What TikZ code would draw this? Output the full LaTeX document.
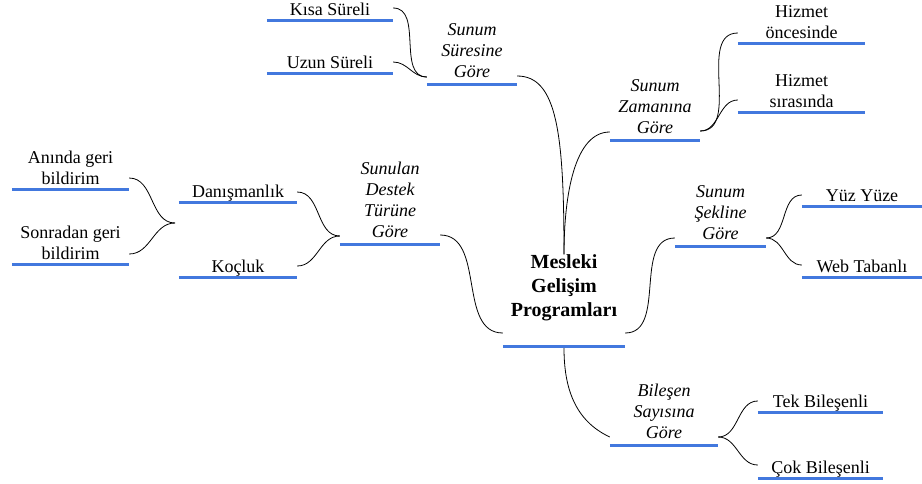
\documentclass[tikz,border=0pt]{standalone}
\usepackage{fontspec}
\setmainfont{Liberation Serif}
\definecolor{mavi}{RGB}{66,120,222}
\tikzset{ %dal stilleri
    yaprak/.style={inner xsep=0pt, inner ysep=4pt, anchor=south, align=center, font=\fontsize{18}{21}\selectfont},
    baslik/.style={inner xsep=0pt, inner ysep=6pt, anchor=south, align=center, font=\fontsize{18}{21}\selectfont\itshape},
    merkez/.style={inner sep=0pt, anchor=south, align=center, minimum width=122pt, font=\fontsize{20}{24}\selectfont\bfseries},
    cizgi/.style={draw=mavi, line width=3pt},
    bag/.style={draw=black, line width=0.8pt},
}

\begin{document}
\begin{tikzpicture}[x=1pt, y=-1pt]
			\useasboundingbox (0,0) rectangle (922,483);
			% merkez
			\node[merkez] (mesleki) at (564,321) {Mesleki\\Gelişim\\Programları};
			% sunum suresi
			\node[yaprak, minimum width=126pt, text depth=0pt] (kisa) at (330,20) {Kısa Süreli};
			\node[yaprak, minimum width=126pt, text depth=0pt] (uzun) at (330,73) {Uzun Süreli};
			\node[baslik, minimum width=90pt] (suresi) at (472,84) {Sunum\\Süresine\\Göre};
			% sunum zamani
			\node[baslik, minimum width=90pt] (zamani) at (655,140) {Sunum\\Zamanına\\Göre};
			\node[yaprak, minimum width=127pt] (oncesi) at (801.5,43) {Hizmet\\öncesinde};
			\node[yaprak, minimum width=127pt] (sirasi) at (801.5,112) {Hizmet\\sırasında};
			% sunum sekli
			\node[baslik, minimum width=91pt] (sekli) at (720.5,246) {Sunum\\Şekline\\Göre};
			\node[yaprak, minimum width=120pt, text depth=0pt] (yuz) at (862,206) {Yüz Yüze};
			\node[yaprak, minimum width=120pt, text depth=0pt] (web) at (862,277) {Web Tabanlı};
			% bilesen sayisi
			\node[baslik, minimum width=108pt] (bilesen) at (664,445) {Bileşen\\Sayısına\\Göre};
			\node[yaprak, minimum width=125pt, text depth=0pt] (tek) at (820.5,412) {Tek Bileşenli};
			\node[yaprak, minimum width=125pt, text depth=0pt] (cok) at (820.5,478) {Çok Bileşenli};
			% destek turu
			\node[baslik, minimum width=100pt] (destek) at (390,244) {Sunulan\\Destek\\Türüne\\Göre};
			\node[yaprak, minimum width=118pt, text depth=0pt] (danis) at (238,202) {Danışmanlık};
			\node[yaprak, minimum width=118pt, text depth=0pt] (kocluk) at (238,277) {Koçluk};
			\node[yaprak, minimum width=117pt] (aninda) at (70.5,189) {Anında geri\\bildirim};
			\node[yaprak, minimum width=117pt] (sonra) at (70.5,264) {Sonradan geri\\bildirim};
			\coordinate (geri) at (175,223);
			% alt cizgiler
			\foreach \n in {kisa,uzun,suresi,zamani,oncesi,sirasi,sekli,yuz,web,bilesen,tek,cok,destek,danis,kocluk,aninda,sonra}{
				\draw[cizgi] (\n.south west) -- (\n.south east);
			}
			\draw[cizgi] ([yshift=-25pt]mesleki.south west) -- ([yshift=-25pt]mesleki.south east);
			% baglantilar
			\draw[bag] ([yshift=12pt]kisa.south east) to[out=0,in=180] ([yshift=7pt]suresi.south west);
			\draw[bag] ([yshift=11pt]uzun.south east) to[out=0,in=180] ([yshift=7pt]suresi.south west);
			\draw[bag] ([yshift=8pt]suresi.south east) .. controls +(40,0) and +(0,-120) .. (mesleki.north);
			\draw[bag] (mesleki.north) .. controls +(0,-60) and +(-35,0) .. ([yshift=8pt]zamani.south west);
			\draw[bag] ([yshift=9pt]zamani.south east) to[out=0,in=180] ([yshift=10pt]oncesi.south west);
			\draw[bag] ([yshift=9pt]zamani.south east) to[out=0,in=180] ([yshift=12pt]sirasi.south west);
			\draw[bag] ([yshift=-12pt]mesleki.south east) to[out=0,in=180] ([yshift=8pt]sekli.south west);
			\draw[bag] ([yshift=8pt]sekli.south east) to[out=0,in=180] ([yshift=11pt]yuz.south west);
			\draw[bag] ([yshift=8pt]sekli.south east) to[out=0,in=180] ([yshift=12pt]web.south west);
			\draw[bag] ([yshift=-27pt]mesleki.south) to[out=-90,in=155] ([yshift=8pt]bilesen.south west);
			\draw[bag] ([yshift=8pt]bilesen.south east) to[out=0,in=180] ([yshift=11pt]tek.south west);
			\draw[bag] ([yshift=8pt]bilesen.south east) to[out=0,in=180] ([yshift=13pt]cok.south west);
			\draw[bag] ([yshift=-12pt]mesleki.south west) to[out=180,in=0] ([yshift=9pt]destek.south east);
			\draw[bag] ([yshift=10pt]danis.south east) to[out=0,in=180] ([yshift=8pt]destek.south west);
			\draw[bag] ([yshift=11pt]kocluk.south east) to[out=0,in=180] ([yshift=8pt]destek.south west);
			\draw[bag] ([yshift=11pt]aninda.south east) to[out=0,in=180] (geri);
			\draw[bag] ([yshift=10pt]sonra.south east) to[out=0,in=180] (geri);
		\end{tikzpicture}
\end{document}
